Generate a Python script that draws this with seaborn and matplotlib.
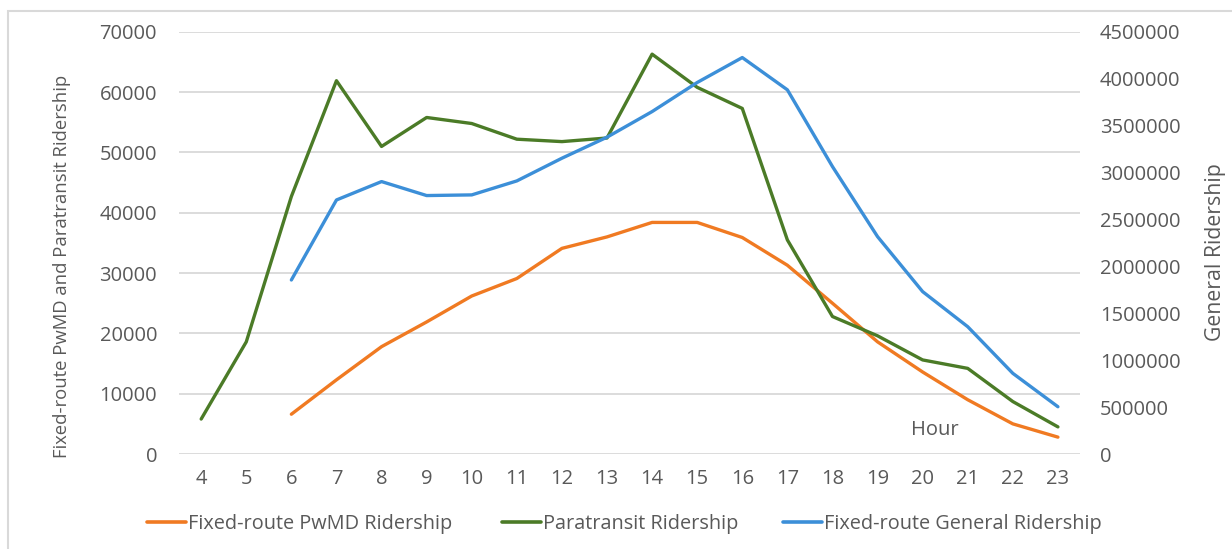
import numpy as np
import pandas as pd
import matplotlib
matplotlib.use("Agg")
import matplotlib.pyplot as plt
import seaborn as sns
from matplotlib.patches import Rectangle
from matplotlib.lines import Line2D

hours = list(range(4, 24))
pwmd = [np.nan, np.nan, 6600, 12300, 17800, 21900, 26200, 29100, 34100, 36000,
        38400, 38400, 35900, 31300, 25000, 18600, 13600, 9000, 5000, 2800]
paratransit = [5800, 18600, 42700, 61900, 51000, 55800, 54800, 52200, 51800, 52400,
               66300, 60800, 57300, 35500, 22800, 19600, 15600, 14200, 8700, 4500]
general = [np.nan, np.nan, 1855000, 2708000, 2904000, 2755000, 2762000, 2911000, 3153000, 3377000,
           3650000, 3960000, 4226000, 3882000, 3064000, 2317000, 1731000, 1357000, 860000, 504000]

left_ticks = list(range(0, 70001, 10000))
right_ticks = list(range(0, 4500001, 500000))
labels = ["Fixed-route PwMD Ridership", "Paratransit Ridership", "Fixed-route General Ridership"]

c_or = "#F07A22"
c_gr = "#4B7B27"
c_bl = "#3C8FD8"
txt = "#595959"
grid = "#D9D9D9"

sns.set_style("white")
plt.rcParams["font.family"] = ["Open Sans", "DejaVu Sans"]

df = pd.DataFrame({"hour": hours, "pwmd": pwmd, "para": paratransit, "gen": general})

fig = plt.figure(figsize=(12.32, 5.49), dpi=100)
ax = fig.add_axes([0.145, 0.173, 0.732, 0.769])
ax2 = ax.twinx()

for t in left_ticks:
    ax.axhline(t, color=grid, lw=1.3, zorder=0)

sns.lineplot(data=df.dropna(subset=["pwmd"]), x="hour", y="pwmd", ax=ax, color=c_or, lw=2.4)
sns.lineplot(data=df, x="hour", y="para", ax=ax, color=c_gr, lw=2.4)
sns.lineplot(data=df.dropna(subset=["gen"]), x="hour", y="gen", ax=ax2, color=c_bl, lw=2.4)

ax.set_xlim(3.5, 23.5)
ax.set_ylim(0, 70000)
ax2.set_ylim(0, 4500000)
ax.set_xticks(hours)
ax.set_xticklabels([str(h) for h in hours])
ax.set_yticks(left_ticks)
ax.set_yticklabels([str(t) for t in left_ticks])
ax2.set_yticks(right_ticks)
ax2.set_yticklabels([str(t) for t in right_ticks])

for a in (ax, ax2):
    for s in a.spines.values():
        s.set_visible(False)
    a.tick_params(length=0, colors=txt, labelsize=14.5)
ax.tick_params(axis="y", pad=15.5)
ax.tick_params(axis="x", pad=11)
ax2.tick_params(axis="y", pad=14)

ax.set_xlabel("")
ax.set_ylabel("Fixed-route PwMD and Paratransit Ridership", color=txt, fontsize=13.3)
ax2.set_ylabel("General Ridership", color=txt, fontsize=15.3)
ax.yaxis.set_label_coords(-(178.7 - 62) / 901.3, (454 - 266) / 422)
ax2.yaxis.set_label_coords((1215 - 178.7) / 901.3, (454 - 252) / 422)
ax.yaxis.label.set_va("center")
ax2.yaxis.label.set_va("center")
ax.text(20.28, 3980, "Hour", color=txt, fontsize=14.5, ha="center", va="center")

colors = [c_or, c_gr, c_bl]
xs = [147, 502, 783]
for c, lab, x in zip(colors, labels, xs):
    leg = fig.legend([Line2D([], [], color=c, lw=2.6)], [lab], loc="center left",
                     bbox_to_anchor=(x / 1232, (549 - 524) / 549), frameon=False,
                     fontsize=14.3, handlelength=1.95, handletextpad=0.12,
                     borderpad=0, borderaxespad=0)
    for t in leg.get_texts():
        t.set_color(txt)

fig.patches.append(Rectangle((8/1232, -0.05), 1.1, (549-11)/549 + 0.05, transform=fig.transFigure,
                             fill=False, edgecolor="#D9D9D9", lw=1.5, zorder=-1))

fig.savefig("out.png", dpi=100, facecolor="white")
